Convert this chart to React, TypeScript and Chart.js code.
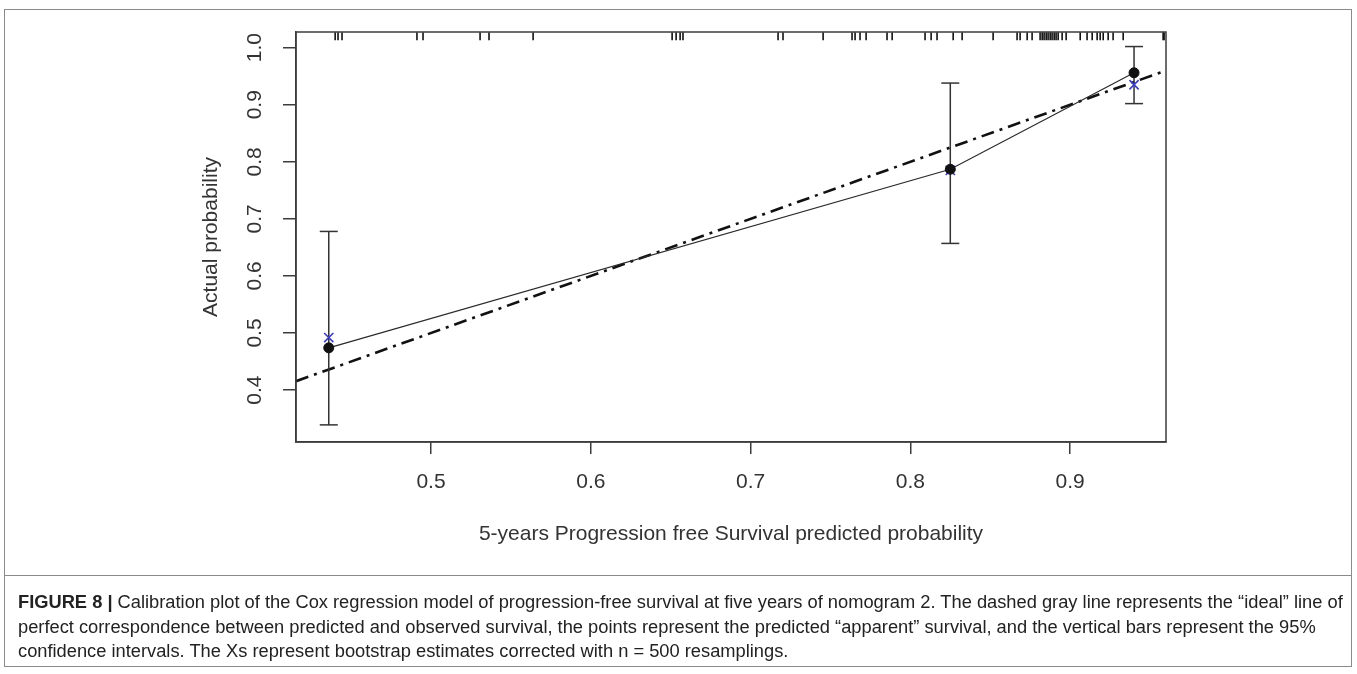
import React, { useEffect, useRef } from 'react';
import { Chart, registerables } from 'chart.js';

Chart.register(...registerables);

// ---- data ----
const X_TICKS = [0.5, 0.6, 0.7, 0.8, 0.9];
const Y_TICKS = [0.4, 0.5, 0.6, 0.7, 0.8, 0.9, 1.0];
const X_RANGE = [0.4155, 0.96];
const Y_RANGE = [0.309, 1.0275];
const PREDICTED = [0.436, 0.825, 0.94];
const OBSERVED = [0.474, 0.787, 0.956];
const CORRECTED = [0.492, 0.785, 0.935];
const CI_LOW = [0.339, 0.657, 0.902];
const CI_HIGH = [0.678, 0.938, 1.002];
const IDEAL = [0.3, 1.0];
const RUG = [
  0.44, 0.4418, 0.4443, 0.4912, 0.495, 0.5307, 0.5363, 0.5639, 0.6509, 0.6534,
  0.6559, 0.6577, 0.7172, 0.7203, 0.7454, 0.7635, 0.7654, 0.7685, 0.7723, 0.7854,
  0.7886, 0.8092, 0.813, 0.8167, 0.8268, 0.8324, 0.8518, 0.8668, 0.8687, 0.8731,
  0.8762, 0.8812, 0.8825, 0.8837, 0.885, 0.8862, 0.8875, 0.8887, 0.89, 0.8912,
  0.8925, 0.895, 0.8975, 0.9063, 0.9106, 0.9138, 0.9169, 0.9188, 0.9207, 0.9238,
  0.9269, 0.9332, 0.9582, 0.9588,
];
const RUG_LEVEL = 1.02;

const X_TITLE = '5-years Progression free Survival predicted probability';
const Y_TITLE = 'Actual probability';
const CAPTION_BOLD = 'FIGURE 8 |';
const CAPTION_LINES = [
  ' Calibration plot of the Cox regression model of progression-free survival at five years of nomogram 2. The dashed gray line represents the \u201cideal\u201d line of',
  'perfect correspondence between predicted and observed survival, the points represent the predicted \u201capparent\u201d survival, and the vertical bars represent the 95%',
  'confidence intervals. The Xs represent bootstrap estimates corrected with n = 500 resamplings.',
];

const FONT = "'Liberation Sans', Arial, sans-serif";
const AXIS_COLOR = '#3c3c3c';
const TEXT_COLOR = '#333333';

const boxPlugin = {
  id: 'plotBox',
  afterDraw(chart: any) {
    const { ctx, chartArea } = chart;
    ctx.save();
    ctx.strokeStyle = AXIS_COLOR;
    ctx.lineWidth = 1.5;
    ctx.strokeRect(chartArea.left, chartArea.top, chartArea.right - chartArea.left, chartArea.bottom - chartArea.top);
    ctx.restore();
  },
};

export default function App() {
  const canvasRef = useRef<HTMLCanvasElement | null>(null);

  useEffect(() => {
    if (!canvasRef.current) return;
    const errData: any[] = [];
    PREDICTED.forEach((p, i) => {
      errData.push({ x: p, y: CI_LOW[i] });
      errData.push({ x: p, y: CI_HIGH[i] });
      errData.push({ x: p, y: null });
    });

    const chart = new Chart(canvasRef.current, {
      type: 'scatter',
      data: {
        datasets: [
          {
            label: 'apparent',
            data: PREDICTED.map((p, i) => ({ x: p, y: OBSERVED[i] })),
            showLine: true,
            borderColor: '#2a2a2a',
            borderWidth: 1.2,
            pointRadius: 5,
            pointBackgroundColor: '#111',
            pointBorderColor: '#111',
            pointBorderWidth: 1,
          },
          {
            label: 'corrected',
            data: PREDICTED.map((p, i) => ({ x: p, y: CORRECTED[i] })),
            showLine: false,
            pointStyle: 'crossRot',
            pointRadius: 6.5,
            pointBorderColor: '#3a3ad6',
            pointBorderWidth: 1.6,
          },
          {
            label: 'ci',
            data: errData,
            showLine: true,
            spanGaps: false,
            borderColor: '#333',
            borderWidth: 1.5,
            pointStyle: 'line',
            pointRadius: 9,
            pointBorderColor: '#333',
            pointBorderWidth: 1.5,
          },
          {
            label: 'ideal',
            data: IDEAL.map((v) => ({ x: v, y: v })),
            showLine: true,
            borderColor: '#111',
            borderWidth: 2.6,
            borderDash: [13, 6, 3, 6],
            pointRadius: 0,
          },
          {
            label: 'rug',
            data: RUG.map((v) => ({ x: v, y: RUG_LEVEL })),
            showLine: false,
            pointStyle: 'line',
            rotation: 90,
            pointRadius: 4,
            pointBorderColor: '#111',
            pointBorderWidth: 1.6,
          } as any,
        ],
      },
      options: {
        animation: false,
        responsive: false,
        maintainAspectRatio: false,
        events: [],
        layout: { padding: { left: 0, top: 32, right: 191, bottom: 0 } },
        plugins: { legend: { display: false }, tooltip: { enabled: false } },
        scales: {
          x: {
            type: 'linear',
            position: 'bottom',
            min: X_RANGE[0],
            max: X_RANGE[1],
            afterBuildTicks: (s: any) => {
              s.ticks = X_TICKS.map((v) => ({ value: v }));
            },
            afterFit: (s: any) => {
              s.height = 133;
            },
            ticks: {
              autoSkip: false,
              maxRotation: 0,
              minRotation: 0,
              padding: 16,
              color: TEXT_COLOR,
              font: { family: FONT, size: 21 },
              callback: (v: any) => Number(v).toFixed(1),
            },
            grid: { drawOnChartArea: false, drawTicks: true, tickLength: 12, color: AXIS_COLOR, lineWidth: 1.5 },
            border: { display: true, color: AXIS_COLOR, width: 1.5 },
            title: {
              display: true,
              text: X_TITLE,
              color: TEXT_COLOR,
              font: { family: FONT, size: 21 },
              padding: { top: 0, bottom: 28 },
            },
          },
          y: {
            type: 'linear',
            position: 'left',
            min: Y_RANGE[0],
            max: Y_RANGE[1],
            afterBuildTicks: (s: any) => {
              s.ticks = Y_TICKS.map((v) => ({ value: v }));
            },
            afterFit: (s: any) => {
              s.width = 296;
            },
            ticks: {
              autoSkip: false,
              minRotation: 90,
              maxRotation: 90,
              crossAlign: 'center',
              padding: 13,
              color: TEXT_COLOR,
              font: { family: FONT, size: 21 },
              callback: (v: any) => Number(v).toFixed(1),
            },
            grid: { drawOnChartArea: false, drawTicks: true, tickLength: 13, color: AXIS_COLOR, lineWidth: 1.5 },
            border: { display: true, color: AXIS_COLOR, width: 1.5 },
            title: {
              display: true,
              text: Y_TITLE,
              color: TEXT_COLOR,
              font: { family: FONT, size: 21 },
              padding: { top: 199, bottom: 0 },
            },
          },
        },
      },
      plugins: [boxPlugin],
    } as any);

    return () => chart.destroy();
  }, []);

  return (
    <div
      style={{
        position: 'absolute',
        left: 0,
        top: 0,
        width: 1357,
        height: 674,
        background: '#fff',
        overflow: 'hidden',
      }}
    >
      <canvas
        ref={canvasRef}
        width={1357}
        height={575}
        style={{ position: 'absolute', left: 0, top: 0, width: 1357, height: 575 }}
      />
      <div
        style={{
          position: 'absolute',
          left: 4,
          top: 9,
          width: 1348,
          height: 658,
          border: '1.5px solid #8a8a8a',
          boxSizing: 'border-box',
          pointerEvents: 'none',
        }}
      />
      <div
        style={{
          position: 'absolute',
          left: 4,
          top: 575,
          width: 1348,
          height: 0,
          borderTop: '1.5px solid #8a8a8a',
        }}
      />
      <div
        style={{
          position: 'absolute',
          left: 18,
          top: 590,
          width: 1336,
          fontFamily: "'Liberation Sans', Arial, sans-serif",
          fontSize: 18.3,
          lineHeight: '24.5px',
          color: '#222',
          whiteSpace: 'nowrap',
        }}
      >
        <div>
          <b>{CAPTION_BOLD}</b>
          {CAPTION_LINES[0]}
        </div>
        <div>{CAPTION_LINES[1]}</div>
        <div>{CAPTION_LINES[2]}</div>
      </div>
    </div>
  );
}
